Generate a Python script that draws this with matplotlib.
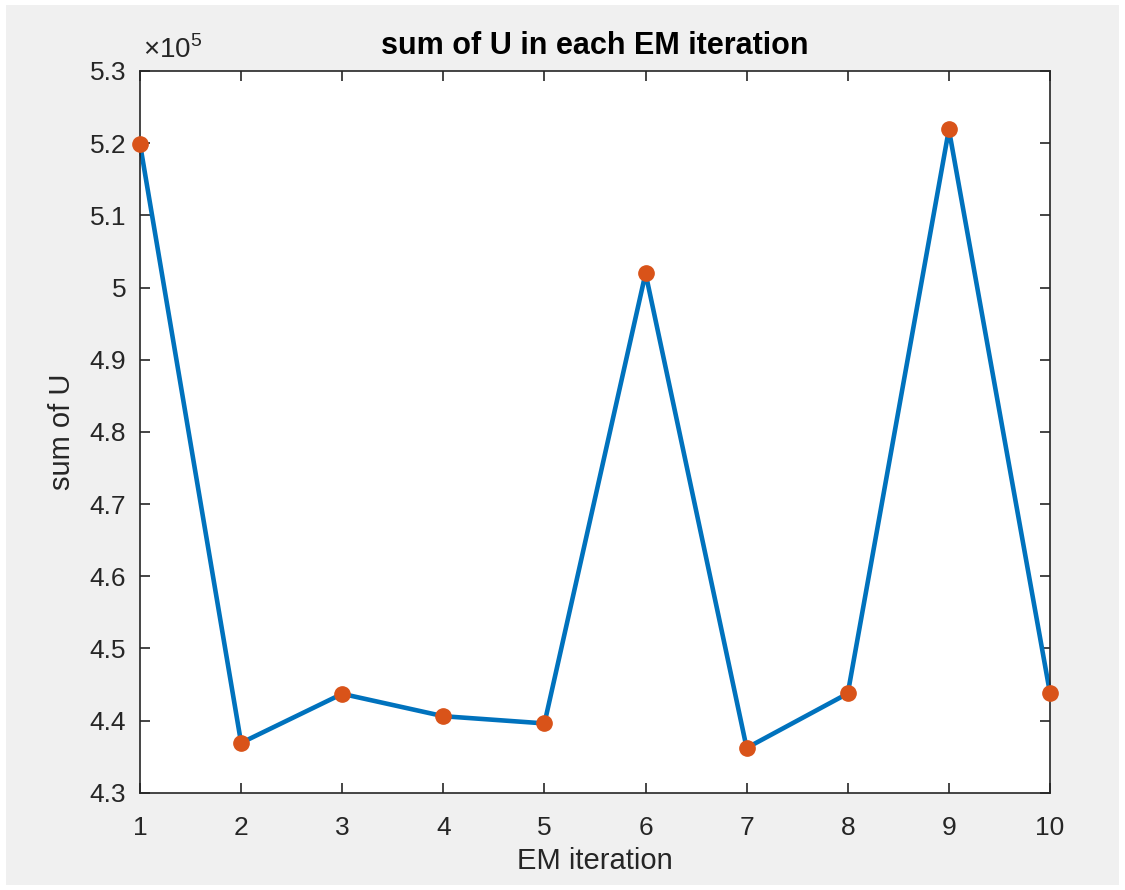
import matplotlib
matplotlib.use('Agg')
import matplotlib.pyplot as plt
from matplotlib.ticker import FuncFormatter, MultipleLocator
from matplotlib.patches import Rectangle

# Values.
iterations = [1, 2, 3, 4, 5, 6, 7, 8, 9, 10]
sum_u = [519900, 436900, 443700, 440600, 439600, 501970, 436200, 443750, 521900, 443800]

plt.rcParams['font.family'] = ['Liberation Sans', 'DejaVu Sans']
plt.rcParams['mathtext.fontset'] = 'custom'
plt.rcParams['mathtext.rm'] = 'Liberation Sans'

dark = '#262626'

fig = plt.figure(figsize=(11.25, 8.9), dpi=100, facecolor='white')
# gray MATLAB figure area inside a thin white border
fig.patches.append(Rectangle((6 / 1125, 5 / 890), 1113 / 1125, 880 / 890,
                             transform=fig.transFigure, facecolor='#f0f0f0',
                             edgecolor='none', zorder=-10))

ax = fig.add_axes([140 / 1125, 97.3 / 890, 910 / 1125, 721.7 / 890])
ax.plot(iterations, sum_u, color='#0072BD', linewidth=3.3, zorder=2, clip_on=False)
ax.plot(iterations, sum_u, 'o', color='#D95319', markersize=11, zorder=3, clip_on=False)

ax.set_xlim(1, 10)
ax.set_ylim(430000, 530000)
ax.xaxis.set_major_locator(MultipleLocator(1))
ax.yaxis.set_major_locator(MultipleLocator(10000))
ax.yaxis.set_major_formatter(FuncFormatter(lambda v, p: f'{v / 1e5:g}'))

for s in ax.spines.values():
    s.set_color(dark)
    s.set_linewidth(1.2)
ax.tick_params(direction='in', length=7, width=1.2, color=dark, labelcolor=dark,
               labelsize=19, top=True, right=True)
ax.tick_params(axis='x', pad=17)
ax.tick_params(axis='y', pad=10)

ax.text(0.003, 1.01, r'$\times10^{5}$', transform=ax.transAxes, fontsize=20,
        color=dark, ha='left', va='bottom')

ax.set_title('sum of U in each EM iteration', fontsize=22, fontweight='bold',
             color='black', pad=12)
ax.set_xlabel('EM iteration', fontsize=21, color=dark, labelpad=5)
ax.set_ylabel('sum of U', fontsize=21, color=dark, labelpad=10)

fig.savefig('out.png', dpi=100, facecolor=fig.get_facecolor())
